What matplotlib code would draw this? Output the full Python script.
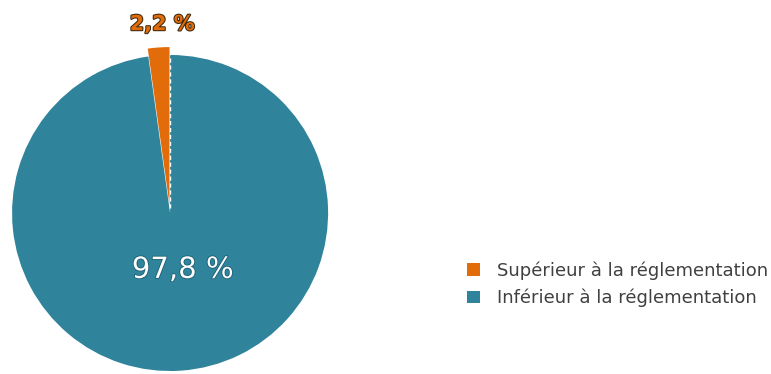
import matplotlib
matplotlib.use("Agg")
import matplotlib.pyplot as plt
import matplotlib.patheffects as pe
from matplotlib.patches import Patch

# Share of measurements relative to the regulatory limit
labels = ["Supérieur à la réglementation", "Inférieur à la réglementation"]
values = [2.2, 97.8]
value_labels = ["2,2 %", "97,8 %"]
colors = ["#E36C0A", "#2F839A"]

fig = plt.figure(figsize=(7.71, 3.74), dpi=100)
ax = fig.add_axes([0.0156, 0.008, 0.41, 0.845])

wedges, _ = ax.pie(values, colors=colors, startangle=90, counterclock=True,
                   explode=[0.05, 0], radius=1,
                   wedgeprops=dict(linewidth=0))
for w in wedges:
    w.set_clip_on(False)

# dashed separator on the right edge of the small slice
ax.plot([0, 0], [0.03, 1.0], color="white", lw=1, ls=(0, (3, 2)), clip_on=False)

ax.set_xlim(-1, 1)
ax.set_ylim(-1, 1)
ax.set_aspect("equal")
ax.axis("off")

ax.text(-0.05, 1.195, value_labels[0], ha="center", va="center", fontsize=15,
        fontweight="bold", color="#E36C0A",
        path_effects=[pe.withStroke(linewidth=1.5, foreground="#3a2a10")])
ax.text(0.08, -0.36, value_labels[1], ha="center", va="center", fontsize=21,
        color="white",
        path_effects=[pe.withStroke(linewidth=1.2, foreground="#1d5f75")])

handles = [Patch(facecolor=c, edgecolor="none") for c in colors]
fig.legend(handles, labels, loc="center left", bbox_to_anchor=(0.585, 0.24),
           frameon=False, fontsize=13, labelcolor="#404040",
           handlelength=0.7, handleheight=0.7, handletextpad=0.95,
           labelspacing=0.5)

fig.savefig("out.png", dpi=100)
